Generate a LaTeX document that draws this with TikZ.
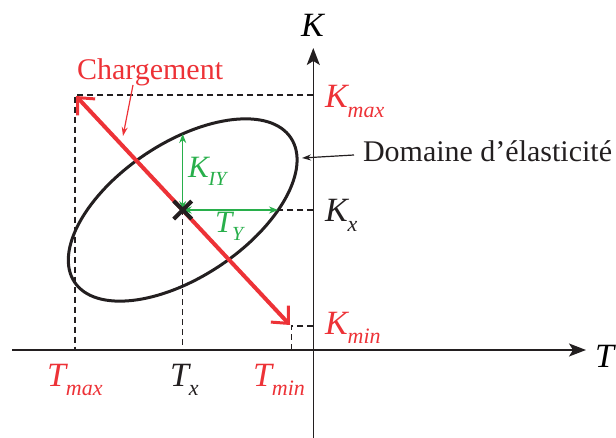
\documentclass[tikz,border=0pt]{standalone}
\usepackage{fontspec}
\setmainfont{Liberation Serif}
\usetikzlibrary{arrows.meta}
\definecolor{myred}{RGB}{237,50,55}
\definecolor{mygreen}{RGB}{40,175,75}
\definecolor{myblack}{RGB}{35,31,32}
\newcommand{\bigf}{\fontsize{30}{36}\selectfont}
\newcommand{\itf}{\fontsize{34}{40}\selectfont}
\newcommand{\subf}{\fontsize{22}{26}\selectfont}
\newcommand{\gbigf}{\fontsize{31}{36}\selectfont}
\newcommand{\gsubf}{\fontsize{20}{24}\selectfont}
\begin{document}
\begin{tikzpicture}[x=1pt,y=-1pt,
  lab/.style={anchor=base west,inner sep=0pt,outer sep=0pt,font=\itf\itshape},
  glab/.style={anchor=base west,inner sep=0pt,outer sep=0pt,font=\gbigf\itshape,text=mygreen},
  txt/.style={anchor=base west,inner sep=0pt,outer sep=0pt,font=\bigf},
  axisline/.style={line width=1.5pt,draw=myblack,-{Stealth[length=17pt,width=13pt,inset=4pt]}},
  dashline/.style={line width=1.3pt,dash pattern=on 6pt off 4pt,draw=myblack},
  greenarr/.style={line width=1.5pt,draw=mygreen,{Stealth[length=9pt,width=7pt]}-{Stealth[length=9pt,width=7pt]}},
  loadarr/.style={line width=4pt,draw=myred,{Straight Barb[length=13pt,width=24pt,line width=3pt]}-{Straight Barb[length=13pt,width=24pt,line width=3pt]}},
  thinarr/.style={line width=1.2pt,-{Stealth[length=9pt,width=6pt]}}]
\useasboundingbox (0,0) rectangle (616,438);

% key points
\coordinate (C) at (182.7,210);
\coordinate (Ktip) at (313.3,48);
\coordinate (Kbot) at (313.3,438);
\coordinate (Tleft) at (12,350);
\coordinate (Ttip) at (586,350);
\coordinate (KmaxA) at (313.3,95);
\coordinate (TmaxTop) at (75,95);
\coordinate (TmaxBot) at (75,350);
\coordinate (KxA) at (313.3,210);
\coordinate (TxBot) at (182.7,350);
\coordinate (KminA) at (313.3,326);
\coordinate (TminC) at (291.5,326);
\coordinate (TminBot) at (291.5,350);
\coordinate (LA) at (76,96);
\coordinate (LB) at (290,325);
\coordinate (GV) at (182.7,134);
\coordinate (GH) at (278,210);
\coordinate (ChS) at (133,85);
\coordinate (ChE) at (123,136);
\coordinate (DoS) at (354,155);
\coordinate (DoE) at (302,158);

% dashed guides
\draw[dashline] (KmaxA) -- (TmaxTop) -- (TmaxBot);
\draw[dashline] (KxA) -- (C) -- (TxBot);
\draw[dashline] (KminA) -- (TminC) -- (TminBot);

% axes
\draw[axisline] (Tleft) -- (Ttip);
\draw[axisline] (Kbot) -- (Ktip);

% ellipse
\draw[line width=3pt,draw=myblack,rotate around={33.7:(C)}] (C) ellipse (130pt and 67pt);

% loading path
\draw[loadarr] (LA) -- (LB);

% green arrows
\draw[greenarr] (C) -- (GV);
\draw[greenarr] (C) -- (GH);

% center cross
\draw[line width=4pt,draw=myblack] ([shift={(-9,-9)}]C) -- ([shift={(9,9)}]C);
\draw[line width=4pt,draw=myblack] ([shift={(-9,9)}]C) -- ([shift={(9,-9)}]C);

% label arrows
\draw[thinarr,draw=myred] (ChS) -- (ChE);
\draw[thinarr,draw=myblack] (DoS) -- (DoE);

% labels
\node[lab] (lK) at (301,37) {K};
\node[lab] (lT) at (595,367) {T};
\node[lab,text=myred] (lKmax) at (325,108) {K\raisebox{-10pt}{\subf max}};
\node[lab,text=myblack] (lKx) at (325,222) {K\raisebox{-10pt}{\subf x}};
\node[lab,text=myred] (lKmin) at (325,335) {K\raisebox{-9pt}{\subf min}};
\node[lab,text=myred] (lTmax) at (47,387) {T\raisebox{-9pt}{\subf max}};
\node[lab,text=myblack] (lTx) at (170,387) {T\raisebox{-9pt}{\subf x}};
\node[lab,text=myred] (lTmin) at (253,387) {T\raisebox{-9pt}{\subf min}};
\node[glab] (lKIY) at (188,178) {K\raisebox{-8pt}{\gsubf IY}};
\node[glab] (lTY) at (215,233) {T\raisebox{-8pt}{\gsubf Y}};
\node[txt,text=myred] (lCh) at (77,80) {Chargement};
\node[txt,text=myblack] (lDo) at (363,162) {Domaine d’élasticité};
\end{tikzpicture}
\end{document}
